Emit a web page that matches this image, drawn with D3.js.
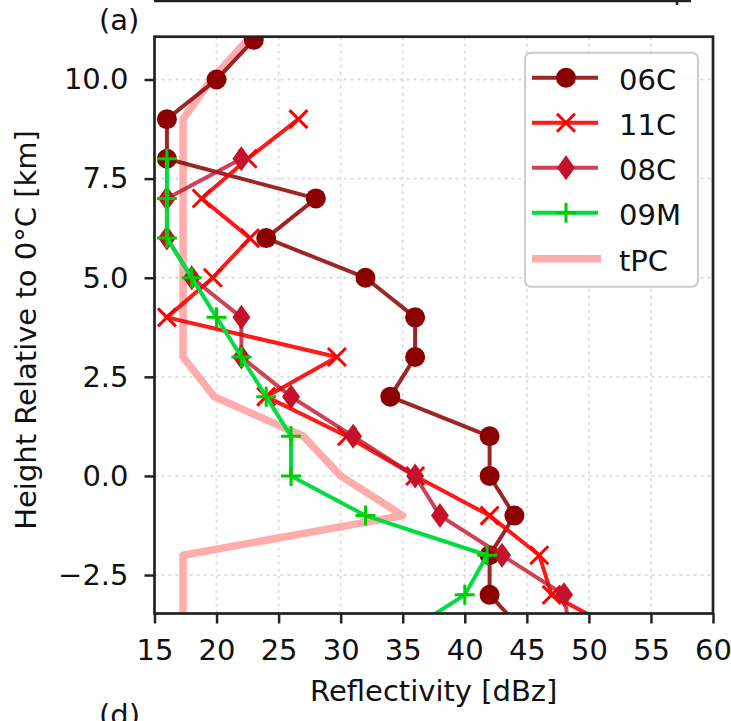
<!DOCTYPE html>
<html>
<head>
<meta charset="utf-8">
<script src="https://cdn.jsdelivr.net/npm/d3@7"></script>
<style>
  body { margin: 0; background: #fff; }
  text { font-family: "DejaVu Sans", sans-serif; }
</style>
</head>
<body>
<div id="chart"></div>
<script>
// heights (km, relative to 0C) and reflectivity per case (dBZ), null = no data
var heights = [11, 10, 9, 8, 7, 6, 5, 4, 3, 2, 1, 0, -1, -2, -3, -4];
var c06C = [23, 20, 16, 16, 28, 24, 32, 36, 36, 34, 42, 42, 44, 42, 42, 45];
var c11C = [null, null, 26.6, 22.5, 18.8, 22.7, 19.7, 16, 29.7, 24, 30.5, 36, 42, 46, 47, 53];
var c08C = [null, null, null, 22, 16, 16, 18, 22, 22, 26, 31, 36, 38, 43, 48, 48.5];
var c09M = [null, null, null, 16, 16, 16, 18, 20, 22, 24, 26, 26, 32, 41.8, 40, 35];
var cTPC = [22.5, 19.6, 17.3, 17.3, 17.3, 17.3, 17.3, 17.3, 17.3, 19.8, 27, 30, 35, 17.3, 17.3, 17.3];

var xTicks = [15, 20, 25, 30, 35, 40, 45, 50, 55, 60];
var yTicks = [-2.5, 0, 2.5, 5, 7.5, 10];

var width = 731, height = 721;
var pLeft = 154.5, pRight = 713, pTop = 36.7, pBottom = 613.5;

var svg = d3.select("#chart")
  .append("svg")
  .attr("width", width)
  .attr("height", height);

var x = d3.scaleLinear().domain([15, 60]).range([pLeft, pRight]);
var y = d3.scaleLinear().domain([-3.47, 11.08]).range([pBottom, pTop]);

// leftover rule from the panel above
svg.append("line")
  .attr("x1", 154).attr("x2", 691).attr("y1", 1).attr("y2", 1)
  .attr("stroke", "#222").attr("stroke-width", 2.5);
svg.append("line")
  .attr("x1", 677).attr("x2", 677).attr("y1", 0).attr("y2", 5)
  .attr("stroke", "#222").attr("stroke-width", 2.5);

// grid
var grid = svg.append("g");
grid.selectAll(".gx")
  .data(xTicks.slice(1, -1))
  .enter().append("line")
  .attr("x1", d => x(d)).attr("x2", d => x(d))
  .attr("y1", pTop).attr("y2", pBottom)
  .attr("stroke", "#dddddd").attr("stroke-width", 1.8)
  .attr("stroke-dasharray", "3,4");
grid.selectAll(".gy")
  .data(yTicks)
  .enter().append("line")
  .attr("x1", pLeft).attr("x2", pRight)
  .attr("y1", d => y(d)).attr("y2", d => y(d))
  .attr("stroke", "#dddddd").attr("stroke-width", 1.8)
  .attr("stroke-dasharray", "3,4");

svg.append("clipPath").attr("id", "plotclip")
  .append("rect")
  .attr("x", pLeft).attr("y", pTop)
  .attr("width", pRight - pLeft).attr("height", pBottom - pTop);

var plot = svg.append("g").attr("clip-path", "url(#plotclip)");

var series = [
  { name: "tPC", values: cTPC, line: "#ffacac", op: 1, lw: 7.5, marker: null, mc: null },
  { name: "06C", values: c06C, line: "#8b0000", op: 0.85, lw: 4, marker: "circle", mc: "#8b0000" },
  { name: "11C", values: c11C, line: "#ff0000", op: 0.9, lw: 4, marker: "x", mc: "#ff0000" },
  { name: "08C", values: c08C, line: "#c4122a", op: 0.8, lw: 4, marker: "diamond", mc: "#c4122a" },
  { name: "09M", values: c09M, line: "#00dd40", op: 1, lw: 4, marker: "plus", mc: "#00cc00" }
];

function drawMarker(g, kind, color) {
  if (kind == "circle") {
    g.append("circle").attr("r", 10).attr("fill", color);
  } else if (kind == "x") {
    g.append("path").attr("d", "M-9,-9L9,9M-9,9L9,-9")
      .attr("stroke", color).attr("stroke-width", 3).attr("fill", "none");
  } else if (kind == "diamond") {
    g.append("path").attr("d", "M0,-12.5L9,0L0,12.5L-9,0Z").attr("fill", color);
  } else if (kind == "plus") {
    g.append("path").attr("d", "M-10,0H10M0,-10V10")
      .attr("stroke", color).attr("stroke-width", 3).attr("fill", "none");
  }
}

var line = d3.line()
  .defined(d => d.v != null)
  .x(d => x(d.v))
  .y(d => y(d.h));

series.forEach(function (s) {
  var pts = heights.map((h, i) => ({ h: h, v: s.values[i] }));
  plot.append("path")
    .datum(pts)
    .attr("d", line)
    .attr("fill", "none")
    .attr("stroke", s.line)
    .attr("stroke-opacity", s.op)
    .attr("stroke-width", s.lw)
    .attr("stroke-linejoin", "round");
  if (s.marker) {
    pts.filter(d => d.v != null).forEach(function (d) {
      var m = plot.append("g").attr("transform", "translate(" + x(d.v) + "," + y(d.h) + ")");
      drawMarker(m, s.marker, s.mc);
    });
  }
});

// axes
var xAxis = svg.append("g")
  .attr("transform", "translate(0," + pBottom + ")")
  .call(d3.axisBottom(x).tickValues(xTicks).tickSize(10).tickPadding(16).tickFormat(d3.format("d")));
var yAxis = svg.append("g")
  .attr("transform", "translate(" + pLeft + ",0)")
  .call(d3.axisLeft(y).tickValues(yTicks).tickSize(10).tickPadding(16).tickFormat(d3.format(".1f")));

[xAxis, yAxis].forEach(function (g) {
  g.select(".domain").remove();
  g.selectAll(".tick line").attr("stroke", "#222").attr("stroke-width", 2.5);
  g.selectAll("text")
    .attr("font-size", 29)
    .attr("fill", "#111")
    .attr("font-family", "DejaVu Sans");
});

// frame
svg.append("rect")
  .attr("x", pLeft).attr("y", pTop)
  .attr("width", pRight - pLeft).attr("height", pBottom - pTop)
  .attr("fill", "none").attr("stroke", "#222").attr("stroke-width", 2.7);

// labels
svg.append("text")
  .attr("x", (pLeft + pRight) / 2).attr("y", 701)
  .attr("text-anchor", "middle").attr("font-size", 29).attr("fill", "#111")
  .text("Reflectivity [dBz]");
svg.append("text")
  .attr("transform", "translate(36,330) rotate(-90)")
  .attr("text-anchor", "middle").attr("font-size", 29).attr("fill", "#111")
  .text("Height Relative to 0°C [km]");
svg.append("text")
  .attr("x", 99).attr("y", 30)
  .attr("font-size", 29).attr("fill", "#111")
  .text("(a)");
svg.append("text")
  .attr("x", 99).attr("y", 725)
  .attr("font-size", 29).attr("fill", "#111")
  .text("(d)");

// legend
var legendOrder = ["06C", "11C", "08C", "09M", "tPC"];
var legend = svg.append("g");
legend.append("rect")
  .attr("x", 525).attr("y", 52.7)
  .attr("width", 173).attr("height", 234)
  .attr("rx", 6)
  .attr("fill", "#fff").attr("fill-opacity", 0.85)
  .attr("stroke", "#cccccc").attr("stroke-width", 2);

legendOrder.forEach(function (name, i) {
  var s = series.find(d => d.name == name);
  var ly = 77.7 + i * 45 + (name == "tPC" ? 1 : 0);
  legend.append("line")
    .attr("x1", 532).attr("x2", name == "tPC" ? 601 : 598)
    .attr("y1", ly).attr("y2", ly)
    .attr("stroke", s.line).attr("stroke-opacity", s.op)
    .attr("stroke-width", s.lw);
  if (s.marker) {
    var m = legend.append("g").attr("transform", "translate(566," + ly + ")");
    drawMarker(m, s.marker, s.mc);
  }
  legend.append("text")
    .attr("x", 619).attr("y", ly + 12)
    .attr("font-size", 29).attr("fill", "#111")
    .text(name);
});
</script>
</body>
</html>
